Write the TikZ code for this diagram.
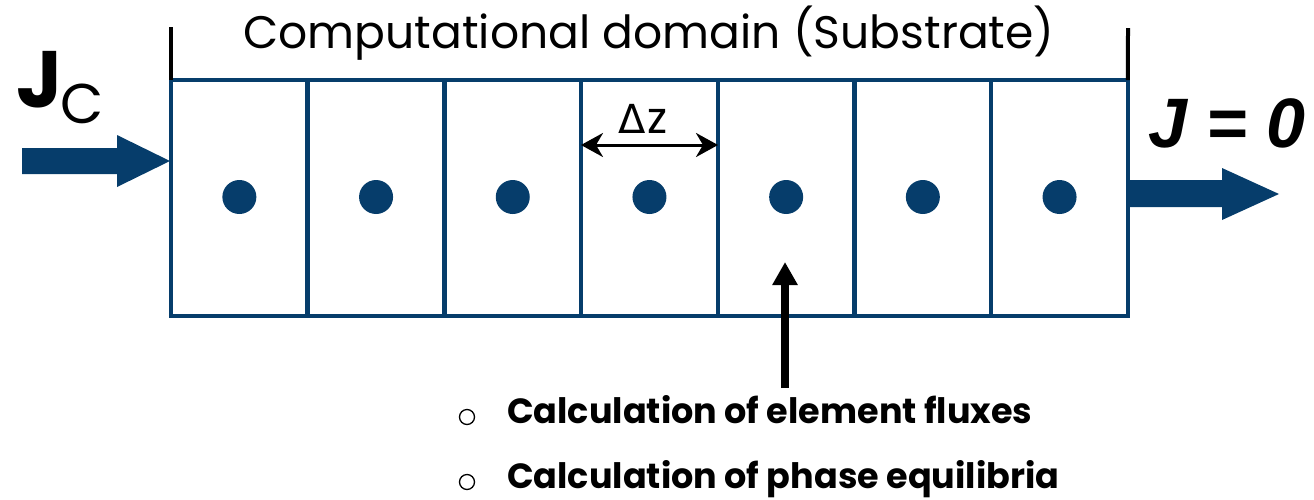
\documentclass[tikz,border=0pt]{standalone}
\usepackage{fontspec}
\setmainfont{Poppins}
\newfontfamily\arialbi{Liberation Sans}
\newfontfamily\djv{DejaVu Sans}
\usetikzlibrary{arrows.meta}
\definecolor{navy}{RGB}{6,61,107}
\tikzset{
  cell/.style={draw=navy, line width=4.5pt, minimum width=136.7pt, minimum height=236pt, inner sep=0pt, outer sep=0pt},
  dot/.style={circle, fill=navy, minimum size=34pt, inner sep=0pt},
  tick/.style={draw=black, line width=4pt},
  blockarrow/.style={fill=navy},
  bullet/.style={circle, draw=black, line width=1.3pt, minimum size=15pt, inner sep=0pt},
  itemtext/.style={anchor=base west, inner sep=0pt, font=\fontsize{35}{38}\selectfont\bfseries},
}
\begin{document}
\begin{tikzpicture}[x=1pt,y=-1pt]
\useasboundingbox (0,0) rectangle (1314,499);
% cells
\foreach \i in {1,...,7}{
  \node[cell] (c\i) at ({171+136.7*(\i-0.5)},198) {};
  \node[dot] (d\i) at ({171+136.7*(\i-0.5)},197) {};
}
% ticks
\coordinate (tl) at (171,27);
\coordinate (tr) at (1128,28);
\draw[tick] (tl) -- (c1.north west);
\draw[tick] (tr) -- (c7.north east);
% title
\node (title) at (649,33) {\fontsize{45.6}{50}\selectfont Computational domain (Substrate)};
% delta z
\coordinate (dzl) at (581,145);
\coordinate (dzr) at (718,145);
\draw[line width=3pt, {Stealth[length=22pt,width=24pt,inset=7pt]}-{Stealth[length=22pt,width=24pt,inset=7pt]}] (dzl) -- (dzr);
\node[anchor=base, inner sep=0pt] (dz) at (643,133) {\djv\fontsize{40}{42}\selectfont Δ\kern1pt\fontspec{Poppins}\fontsize{44}{46}\selectfont z};
% input arrow
\coordinate (inTip) at (170,161);
\fill[blockarrow] (22,148) -- (117,148) -- (117,135) -- (inTip) -- (117,187) -- (117,174) -- (22,174) -- cycle;
\node[anchor=base west, inner sep=0pt] (jc) at (16,107) {\fontsize{80}{80}\selectfont\bfseries J\kern-2pt\raisebox{-0.2em}{\fontsize{56}{56}\selectfont\mdseries C}};
% output arrow
\fill[blockarrow] (1128,180) -- (1222,180) -- (1222,168) -- (1279,194) -- (1222,220) -- (1222,207) -- (1128,207) -- cycle;
\node[anchor=base west, inner sep=0pt] (j0) at (1148,147) {\fontsize{70}{70}\arialbi\bfseries\itshape J = 0};
% vertical arrow
\coordinate (va) at (785,388);
\coordinate (vt) at (785,262);
\draw[line width=8pt, -{Triangle[width=24pt,length=23pt]}] (va) -- (vt);
% bullets
\node[bullet] (b1) at (467,417) {};
\node[bullet] (b2) at (467,482) {};
\node[itemtext] (t1) at (507,423) {Calculation of element fluxes};
\node[itemtext] (t2) at (507,488) {Calculation of phase equilibria};
\end{tikzpicture}
\end{document}
